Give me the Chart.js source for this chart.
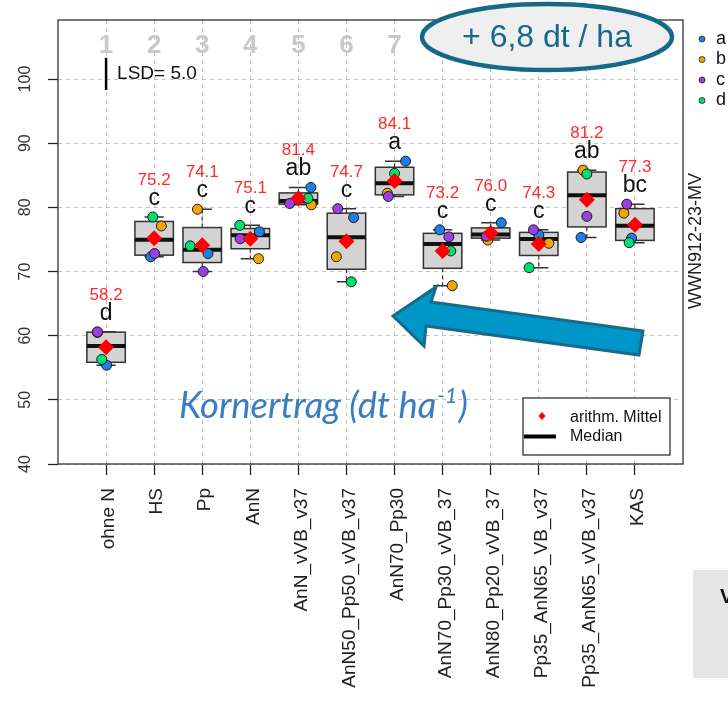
<!DOCTYPE html>
<html><head><meta charset="utf-8">
<script src="https://cdn.jsdelivr.net/npm/chart.js@4.4.1/dist/chart.umd.min.js"></script>
<style>html,body{margin:0;padding:0;background:#fff;}#wrap{width:728px;height:702px;position:relative}</style>
</head><body><div id="wrap"><canvas id="c" width="728" height="702"></canvas></div>
<script>
// ---- data ----
const categories = ['ohne N','HS','Pp','AnN','AnN_vVB_v37','AnN50_Pp50_vVB_v37','AnN70_Pp30','AnN70_Pp30_vVB_37','AnN80_Pp20_vVB_37','Pp35_AnN65_VB_v37','Pp35_AnN65_vVB_v37','KAS'];
const repA = [55.4, 72.3, 72.8, 76.2, 83.1, 78.4, 87.2, 76.5, 77.6, 75.7, 75.3, 75.2];
const repB = [60.5, 77.1, 79.7, 72.0, 80.4, 72.3, 82.2, 67.8, 74.9, 74.4, 85.8, 79.1];
const repC = [60.6, 72.8, 70.0, 75.1, 80.6, 79.8, 81.7, 75.4, 75.5, 76.5, 78.6, 80.5];
const repD = [56.3, 78.5, 74.0, 77.2, 81.4, 68.4, 85.3, 73.2, 76.0, 70.6, 85.2, 74.5];
const means = [58.2, 75.2, 74.1, 75.1, 81.4, 74.7, 84.1, 73.2, 76.0, 74.3, 81.2, 77.3];
const letters = ['d','c','c','c','ab','c','a','c','c','c','ab','bc'];
const jitA = [0.01,-0.07,0.12,0.19,0.26,0.15,0.23,-0.06,0.22,0.0,-0.12,-0.07];
const jitB = [-0.18,0.15,-0.10,0.17,0.27,-0.21,-0.15,0.20,-0.06,0.21,-0.08,-0.23];
const jitC = [-0.18,0.01,0.02,-0.21,-0.18,-0.18,-0.13,0.13,-0.09,-0.11,0.0,-0.17];
const jitD = [-0.09,-0.03,-0.25,-0.22,0.20,0.10,0.0,0.17,0.0,-0.20,0.0,-0.12];
const yTicks = [40,50,60,70,80,90,100];
const topNumbers = ['1','2','3','4','5','6','7'];
const lsdValue = 5.0, lsdCenter = 100.8;
const legendLabels = ['a','b','c','d'];
const seriesColors = ['#1f7fe6','#f2a600','#9c3fe2','#00e070'];

const FONT = "'Liberation Sans', Arial, sans-serif";
Chart.defaults.font.family = FONT;

function fivenum(arr){
  const x = arr.slice().sort((a,b)=>a-b); const n = x.length;
  const n4 = Math.floor((n+3)/2)/2;
  const d = [1, n4, (n+1)/2, n+1-n4, n];
  return d.map(v => 0.5*(x[Math.floor(v)-1] + x[Math.ceil(v)-1]));
}

const reps = [repA, repB, repC, repD];
const jits = [jitA, jitB, jitC, jitD];
const groups = categories.map((_, i) => reps.map(r => r[i]));

const datasets = reps.map((r, k) => ({
  label: legendLabels[k],
  data: r.map((v, i) => ({x: i + 1 + jits[k][i], y: v})),
  backgroundColor: seriesColors[k], borderColor: '#1a1a1a', borderWidth: 1,
  pointRadius: 5, pointHoverRadius: 5, order: 4 - k
}));
datasets.push({
  label: 'arithm. Mittel',
  data: means.map((v, i) => ({x: i + 1, y: v})),
  backgroundColor: '#ff0000', borderWidth: 0, pointStyle: 'rectRot',
  pointRadius: 8, pointHoverRadius: 8, order: 0
});

const boxPlugin = {
  id: 'boxes',
  beforeDatasetsDraw(chart){
    const {ctx, chartArea: ca, scales: {x, y}} = chart;
    ctx.save();
    const unit = x.getPixelForValue(2) - x.getPixelForValue(1);
    groups.forEach((g, i) => {
      const s = fivenum(g);
      const iqr = s[3] - s[1];
      const lo = Math.min(...g.filter(v => v >= s[1] - 1.5*iqr));
      const hi = Math.max(...g.filter(v => v <= s[3] + 1.5*iqr));
      const cx = x.getPixelForValue(i + 1);
      const hw = unit * 0.4, sw = unit * 0.2;
      ctx.strokeStyle = '#333'; ctx.lineWidth = 1.2; ctx.setLineDash([4,3]);
      ctx.beginPath();
      ctx.moveTo(cx, y.getPixelForValue(s[3])); ctx.lineTo(cx, y.getPixelForValue(hi));
      ctx.moveTo(cx, y.getPixelForValue(s[1])); ctx.lineTo(cx, y.getPixelForValue(lo));
      ctx.stroke();
      ctx.setLineDash([]); ctx.lineWidth = 1.5;
      ctx.beginPath();
      ctx.moveTo(cx - sw, y.getPixelForValue(hi)); ctx.lineTo(cx + sw, y.getPixelForValue(hi));
      ctx.moveTo(cx - sw, y.getPixelForValue(lo)); ctx.lineTo(cx + sw, y.getPixelForValue(lo));
      ctx.stroke();
      const yt = y.getPixelForValue(s[3]), yb = y.getPixelForValue(s[1]);
      ctx.fillStyle = '#d3d3d3';
      ctx.fillRect(cx - hw, yt, 2*hw, yb - yt);
      ctx.strokeStyle = '#333'; ctx.lineWidth = 1.5;
      ctx.strokeRect(cx - hw, yt, 2*hw, yb - yt);
      ctx.strokeStyle = '#111'; ctx.lineWidth = 4;
      ctx.beginPath();
      ctx.moveTo(cx - hw, y.getPixelForValue(s[2])); ctx.lineTo(cx + hw, y.getPixelForValue(s[2]));
      ctx.stroke();
      const ym = y.getPixelForValue(hi);
      ctx.textAlign = 'center'; ctx.textBaseline = 'alphabetic';
      ctx.fillStyle = '#111'; ctx.font = '23px ' + FONT;
      ctx.fillText(letters[i], cx, ym - 12);
      ctx.fillStyle = '#ff2a2a'; ctx.font = '17px ' + FONT;
      ctx.fillText(means[i].toFixed(1), cx, ym - 32);
    });
    ctx.restore();
  },
  afterDraw(chart){
    const {ctx, chartArea: ca, scales: {x, y}} = chart;
    ctx.save();
    ctx.strokeStyle = '#333'; ctx.lineWidth = 1.3;
    ctx.strokeRect(ca.left, ca.top, ca.right - ca.left, ca.bottom - ca.top);
    ctx.fillStyle = '#333'; ctx.font = '16px ' + FONT;
    ctx.textAlign = 'center'; ctx.textBaseline = 'middle';
    yTicks.forEach(v => {
      ctx.save(); ctx.translate(26, y.getPixelForValue(v)); ctx.rotate(-Math.PI/2);
      ctx.fillText(String(v), 0, 0); ctx.restore();
    });
    ctx.save(); ctx.translate(696, 241); ctx.rotate(-Math.PI/2);
    ctx.fillStyle = '#222'; ctx.font = '18px ' + FONT; ctx.fillText('WWN912-23-MV', 0, 0); ctx.restore();
    ctx.fillStyle = '#c9c9c9'; ctx.font = 'bold 26px ' + FONT; ctx.textBaseline = 'alphabetic';
    topNumbers.forEach((t, i) => ctx.fillText(t, x.getPixelForValue(i + 1), 53));
    const lx = x.getPixelForValue(1);
    ctx.strokeStyle = '#000'; ctx.lineWidth = 2.5;
    ctx.beginPath();
    ctx.moveTo(lx, y.getPixelForValue(lsdCenter - lsdValue/2));
    ctx.lineTo(lx, y.getPixelForValue(lsdCenter + lsdValue/2));
    ctx.stroke();
    ctx.fillStyle = '#111'; ctx.font = '19px ' + FONT; ctx.textAlign = 'left'; ctx.textBaseline = 'middle';
    ctx.fillText('LSD= ' + lsdValue.toFixed(1), lx + 11, y.getPixelForValue(lsdCenter));
    ctx.beginPath(); ctx.ellipse(547, 37, 125, 33, 0, 0, Math.PI*2);
    ctx.fillStyle = '#efefef'; ctx.fill();
    ctx.strokeStyle = '#17698a'; ctx.lineWidth = 4.5; ctx.stroke();
    ctx.fillStyle = '#17698a'; ctx.font = '32px ' + FONT; ctx.textAlign = 'center'; ctx.textBaseline = 'middle';
    ctx.fillText('+ 6,8 dt / ha', 547, 38);
    ctx.beginPath();
    ctx.moveTo(393, 316); ctx.lineTo(436, 287); ctx.lineTo(431, 302);
    ctx.lineTo(643, 331); ctx.lineTo(639, 355); ctx.lineTo(426, 326);
    ctx.lineTo(424, 346); ctx.closePath();
    ctx.fillStyle = '#0096c8'; ctx.fill();
    ctx.strokeStyle = '#186a8a'; ctx.lineWidth = 3; ctx.lineJoin = 'miter'; ctx.stroke();
    ctx.fillStyle = '#3b7dc0'; ctx.textAlign = 'left'; ctx.textBaseline = 'alphabetic';
    ctx.font = 'italic 100px Lato';
    const w100 = ctx.measureText('Kornertrag (dt').width;
    const fs = 100 * 211 / w100;
    ctx.font = 'italic ' + fs + 'px Lato';
    let tx = 179; const tb = 418;
    const t1 = 'Kornertrag (dt ha';
    ctx.fillText(t1, tx, tb); tx += ctx.measureText(t1).width;
    ctx.font = 'italic ' + (fs*0.6) + 'px Lato';
    ctx.fillText('-1', tx + 1, tb - fs*0.4); tx += ctx.measureText('-1').width + 2;
    ctx.font = 'italic ' + fs + 'px Lato';
    ctx.fillText(')', tx, tb);
    ctx.fillStyle = '#fff'; ctx.fillRect(523, 398, 147, 57);
    ctx.strokeStyle = '#222'; ctx.lineWidth = 1.2; ctx.strokeRect(523, 398, 147, 57);
    ctx.fillStyle = '#ff0000';
    ctx.beginPath(); ctx.moveTo(542, 412); ctx.lineTo(545.5, 416); ctx.lineTo(542, 420); ctx.lineTo(538.5, 416); ctx.closePath(); ctx.fill();
    ctx.strokeStyle = '#000'; ctx.lineWidth = 4;
    ctx.beginPath(); ctx.moveTo(524, 436.5); ctx.lineTo(556, 436.5); ctx.stroke();
    ctx.fillStyle = '#111'; ctx.font = '16px ' + FONT; ctx.textBaseline = 'middle';
    ctx.fillText('arithm. Mittel', 570, 418);
    ctx.fillText('Median', 570, 437);
    legendLabels.forEach((t, k) => {
      const ly = 39 + k * 20.5;
      ctx.beginPath(); ctx.arc(702, ly, 3, 0, Math.PI*2);
      ctx.fillStyle = seriesColors[k]; ctx.fill();
      ctx.strokeStyle = '#222'; ctx.lineWidth = 0.8; ctx.stroke();
      ctx.fillStyle = '#111'; ctx.font = '18px ' + FONT; ctx.textBaseline = 'middle';
      ctx.fillText(t, 716, ly);
    });
    ctx.fillStyle = '#e6e6e6'; ctx.fillRect(693, 570, 35, 108);
    ctx.fillStyle = '#111'; ctx.font = 'bold 20px ' + FONT; ctx.textBaseline = 'middle';
    ctx.fillText('V', 720, 597);
    ctx.restore();
  }
};

new Chart(document.getElementById('c'), {
  type: 'scatter',
  data: { datasets },
  options: {
    responsive: false, animation: false, devicePixelRatio: 1,
    layout: { padding: { top: 20, right: 45, left: 0, bottom: 0 } },
    plugins: { legend: { display: false }, tooltip: { enabled: false } },
    scales: {
      x: {
        type: 'linear', min: 0, max: 13,
        afterBuildTicks: s => { s.ticks = categories.map((_, i) => ({value: i + 1})); },
        afterFit: s => { s.height = 238; },
        ticks: { stepSize: 1, autoSkip: false, minRotation: 90, maxRotation: 90, padding: 13, labelOffset: 3,
                 color: '#222', font: { size: 19 }, callback: v => categories[v - 1] },
        grid: { color: '#c4c4c4', lineWidth: 1, tickLength: 11, tickColor: '#222', tickWidth: 1.3, tickBorderDash: [] },
        border: { display: false, dash: [4, 4] }
      },
      y: {
        type: 'linear', min: 40, max: 109.2,
        afterBuildTicks: s => { s.ticks = yTicks.map(v => ({value: v})); },
        afterFit: s => { s.width = 58; },
        ticks: { display: false },
        grid: { color: '#c4c4c4', lineWidth: 1, tickLength: 10, tickColor: '#222', tickWidth: 1.3, tickBorderDash: [] },
        border: { display: false, dash: [4, 4] }
      }
    }
  },
  plugins: [boxPlugin]
});
</script></body></html>
